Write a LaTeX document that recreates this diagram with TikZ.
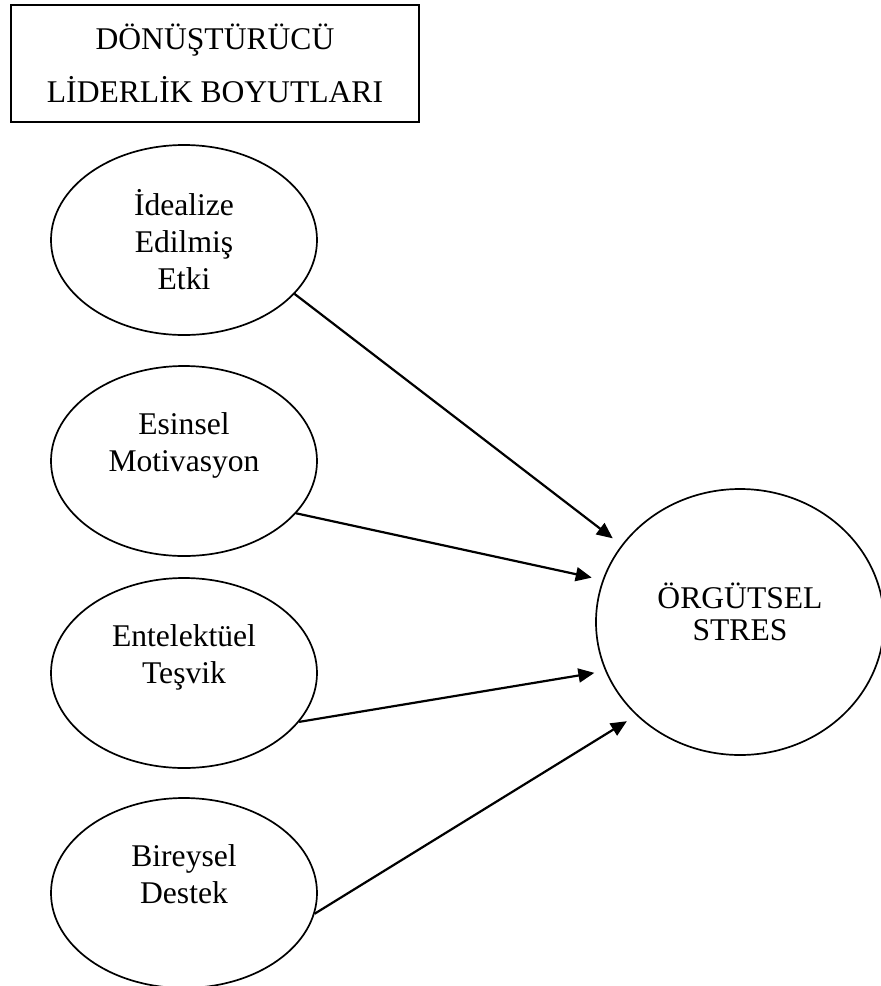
\documentclass[tikz,border=0pt]{standalone}
\usepackage{fontspec}
\setmainfont{Liberation Serif}
\usetikzlibrary{arrows.meta,shapes.geometric}

\begin{document}
\begin{tikzpicture}[x=0.5pt,y=-0.5pt,
  font=\fontsize{15.8}{18.5}\selectfont,
  dim/.style={ellipse,draw,line width=0.85pt,minimum width=133pt,minimum height=95pt,align=center,inner sep=0pt},
  link/.style={line width=1.1pt,-{Triangle[length=8pt,width=7pt]},shorten >=5.5pt}]
  \useasboundingbox (0,0) rectangle (881,986);

  \node[draw,line width=0.75pt,minimum width=204pt,minimum height=58.5pt,align=center,
        font=\fontsize{15.8}{26.5}\selectfont] (title) at (215,63.5) {DÖNÜŞTÜRÜCÜ\\LİDERLİK BOYUTLARI};

  \node[dim] (ide) at (184,240) {İdealize\\Edilmiş\\Etki};
  \node[dim] (esi) at (184,461) {Esinsel\\Motivasyon\\\mbox{}};
  \node[dim] (ent) at (184,673) {Entelektüel\\Teşvik\\\mbox{}};
  \node[dim] (bir) at (184,893) {Bireysel\\Destek\\\mbox{}};

  \node[dim,minimum width=144pt,minimum height=133pt,font=\fontsize{15.8}{16}\selectfont] (stres) at (740,622) {ÖRGÜTSEL\\STRES\\[-6pt]\mbox{}};

  \draw[link] (ide.-26) -- (stres.147);
  \draw[link] (esi.-25) -- (stres.163);
  \draw[link] (ent.-23) -- (stres.200);
  \draw[link] (bir.-9) -- (stres.222);
\end{tikzpicture}
\end{document}
